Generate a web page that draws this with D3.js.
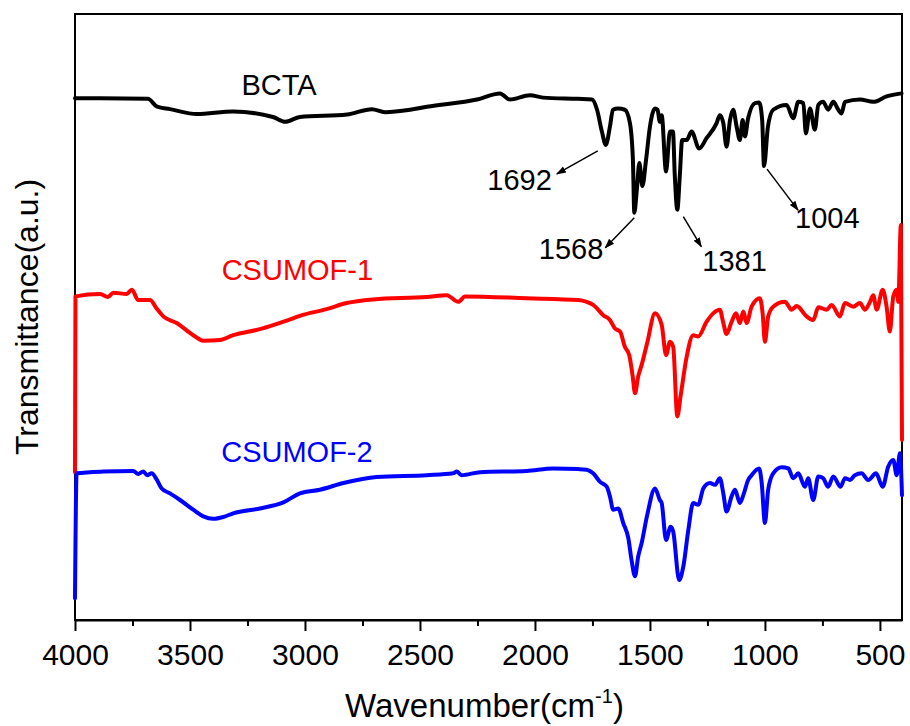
<!DOCTYPE html>
<html>
<head>
<meta charset="utf-8">
<script src="https://cdn.jsdelivr.net/npm/d3@7"></script>
<style>
  html, body { margin: 0; padding: 0; background: #fff; }
  svg { display: block; font-family: "Liberation Sans", Arial, sans-serif; }
</style>
</head>
<body>
<svg id="chart" width="910" height="726"></svg>
<script>
// FTIR spectra: [wavenumber (cm^-1), transmittance (a.u., offset stacked)]
const bcta = [
  [4000,86.1],[3891,86.1],[3683,86.0],[3643,84.7],[3587,84.3],[3470,83.5],[3313,83.9],
  [3139,83.0],[3087,82.2],[3022,83.0],[2817,83.4],[2709,84.3],[2652,83.8],[2543,84.2],
  [2470,84.7],[2252,85.9],[2152,86.9],[2109,85.9],[2022,86.6],[1965,86.2],[1813,86.0],
  [1752,85.9],[1730,84.2],[1709,80.6],[1692,78.4],[1674,81.4],[1661,84.2],[1639,84.4],
  [1609,84.2],[1587,82.0],[1574,75.9],[1568,67.2],[1557,71.0],[1546,75.4],[1533,71.6],
  [1517,75.9],[1500,81.4],[1478,84.4],[1467,84.2],[1457,82.2],[1449,83.3],[1430,74.0],
  [1413,80.6],[1400,80.6],[1392,73.4],[1381,67.7],[1370,73.4],[1360,79.2],[1340,79.2],
  [1319,80.6],[1286,77.8],[1254,79.5],[1210,82.0],[1196,83.3],[1181,82.0],[1167,78.1],
  [1152,82.5],[1138,84.2],[1123,81.4],[1109,79.2],[1097,82.5],[1087,79.8],[1073,82.8],
  [1043,85.3],[1025,85.4],[1012,82.5],[1004,74.9],[987,81.4],[964,84.2],[906,85.0],
  [877,82.8],[855,85.5],[833,85.3],[822,80.3],[804,84.4],[783,80.9],[768,85.0],
  [747,85.5],[725,84.2],[703,85.5],[681,84.2],[667,83.6],[652,85.5],[587,85.9],
  [529,85.5],[471,86.4],[406,86.9]
];

const csumof1 = [
  [4000,24.4],[3998,53.4],[3891,53.8],[3857,53.3],[3833,54.0],[3775,53.8],[3753,54.5],
  [3725,52.8],[3674,52.8],[3645,51.4],[3616,50.1],[3558,49.0],[3486,47.0],[3442,46.1],
  [3370,46.2],[3312,47.0],[3196,48.0],[3080,49.4],[3022,50.2],[2906,51.3],[2819,52.3],
  [2703,52.9],[2471,53.3],[2384,53.6],[2333,52.5],[2304,53.4],[2036,53.1],[1812,52.8],
  [1775,52.5],[1747,52.0],[1703,50.3],[1674,49.5],[1652,48.1],[1630,47.6],[1609,45.1],
  [1590,43.7],[1575,40.2],[1565,37.4],[1551,40.2],[1536,42.1],[1512,45.7],[1478,50.6],
  [1449,48.7],[1430,43.7],[1413,45.9],[1399,45.1],[1381,33.6],[1367,36.9],[1340,43.5],
  [1312,47.0],[1290,46.8],[1254,49.2],[1225,50.6],[1196,51.2],[1181,49.0],[1167,47.2],
  [1145,49.2],[1126,50.6],[1109,49.0],[1094,50.9],[1080,49.0],[1058,51.7],[1022,53.1],
  [1010,50.6],[1000,45.9],[986,50.1],[964,51.7],[913,52.5],[884,51.2],[862,51.8],
  [819,50.1],[790,49.5],[768,51.6],[732,51.2],[710,52.0],[674,50.1],[652,52.3],
  [616,51.7],[587,52.3],[565,51.2],[543,52.5],[529,53.6],[514,51.2],[488,54.5],
  [471,51.7],[457,47.6],[442,53.4],[427,54.5],[420,52.5],[409,65.2],[404,29.7]
];

const csumof2 = [
  [4000,3.6],[3993,24.2],[3877,24.5],[3747,24.6],[3725,24.1],[3703,24.5],[3686,23.9],
  [3667,24.2],[3645,23.2],[3623,21.7],[3587,20.9],[3543,19.8],[3486,18.2],[3442,17.1],
  [3399,16.7],[3355,17.0],[3312,17.6],[3196,18.4],[3094,19.4],[3022,20.9],[2935,21.5],
  [2833,22.6],[2688,23.6],[2471,23.9],[2355,24.2],[2340,24.5],[2319,23.9],[2239,24.4],
  [2036,24.6],[1920,25.0],[1812,24.9],[1775,24.8],[1747,24.2],[1717,22.8],[1688,22.0],
  [1674,20.4],[1660,18.2],[1638,18.4],[1616,16.0],[1594,13.5],[1580,9.9],[1565,7.2],
  [1551,10.5],[1536,12.7],[1512,17.3],[1478,21.7],[1457,19.8],[1449,19.3],[1430,13.2],
  [1410,15.4],[1399,14.6],[1373,6.6],[1355,8.8],[1333,14.9],[1312,19.3],[1290,19.0],
  [1268,21.7],[1239,22.6],[1217,22.3],[1196,23.4],[1181,20.9],[1167,17.9],[1145,20.4],
  [1130,21.5],[1109,19.3],[1094,20.6],[1073,23.1],[1058,23.9],[1025,25.0],[1014,22.6],
  [1000,16.0],[986,21.5],[964,24.2],[927,25.2],[898,25.0],[877,23.4],[855,24.2],
  [826,22.0],[812,23.4],[790,19.8],[768,23.7],[747,23.4],[725,22.0],[703,23.7],
  [671,22.0],[652,23.4],[630,23.1],[609,23.9],[580,24.2],[551,23.1],[517,24.2],
  [488,22.0],[464,25.3],[442,26.4],[427,23.9],[413,27.5],[404,20.6]
];

const seriesNames = ["BCTA", "CSUMOF-1", "CSUMOF-2"];
const seriesColors = ["#000000", "#ff0000", "#0000ff"];

// Peak positions marked on the BCTA spectrum
const peakLabels = [1692, 1568, 1381, 1004];

// Axis ticks
const majorTicks = [4000, 3500, 3000, 2500, 2000, 1500, 1000, 500];
const minorTicks = [3750, 3250, 2750, 2250, 1750, 1250, 750];

const svg = d3.select("#chart");
const plot = { left: 75, right: 902, top: 14, bottom: 620 };

const x = d3.scaleLinear().domain([4000, 404]).range([plot.left, plot.right]);
const y = d3.scaleLinear().domain([0, 100]).range([plot.bottom, plot.top]);

// Frame
svg.append("rect")
  .attr("x", plot.left).attr("y", plot.top)
  .attr("width", plot.right - plot.left).attr("height", plot.bottom - plot.top)
  .attr("fill", "none").attr("stroke", "#000").attr("stroke-width", 2);

// Bottom axis: major ticks with labels, minor ticks without
const xAxis = svg.append("g").attr("transform", `translate(0,${plot.bottom})`)
  .call(d3.axisBottom(x).tickValues(majorTicks).tickFormat(d3.format("d"))
    .tickSize(11).tickSizeOuter(0));
xAxis.select(".domain").attr("stroke-width", 2);
xAxis.selectAll(".tick line").attr("stroke-width", 2);
xAxis.selectAll(".tick text")
  .attr("y", 45).attr("dy", null)
  .attr("font-size", 30)
  .attr("font-family", "Liberation Sans, Arial, sans-serif")
  .attr("fill", "#000");

const xMinor = svg.append("g").attr("transform", `translate(0,${plot.bottom})`)
  .call(d3.axisBottom(x).tickValues(minorTicks).tickSize(6).tickSizeOuter(0).tickFormat(""));
xMinor.select(".domain").remove();
xMinor.selectAll(".tick line").attr("stroke-width", 2);

// Axis titles
const xTitle = svg.append("text")
  .attr("x", (plot.left + plot.right) / 2 - 4).attr("y", 717)
  .attr("text-anchor", "middle").attr("font-size", 33).attr("fill", "#000");
xTitle.append("tspan").text("Wavenumber(cm");
xTitle.append("tspan").attr("font-size", 20).attr("dy", -14).text("-1");
xTitle.append("tspan").attr("dy", 14).text(")");

svg.append("text")
  .attr("transform", `translate(38,${(plot.top + plot.bottom) / 2}) rotate(-90)`)
  .attr("text-anchor", "middle").attr("font-size", 32).attr("fill", "#000")
  .text("Transmittance(a.u.)");

// Spectra
const line = d3.line()
  .x(d => x(d[0])).y(d => y(d[1]))
  .curve(d3.curveMonotoneX);

[bcta, csumof1, csumof2].forEach((data, i) => {
  svg.append("path")
    .datum(data)
    .attr("fill", "none")
    .attr("stroke", seriesColors[i])
    .attr("stroke-width", 4)
    .attr("stroke-linejoin", "round")
    .attr("stroke-linecap", "round")
    .attr("d", line);
});

// Series names, placed above each trace's baseline level
const nameAnchors = [
  { w: 3113, dy: -3 },
  { w: 3033, dy: -16 },
  { w: 3035, dy: -11 }
];
const nameLevels = [bcta[0][1], csumof1[1][1], csumof2[1][1]];
seriesNames.forEach((name, i) => {
  svg.append("text")
    .attr("x", x(nameAnchors[i].w))
    .attr("y", y(nameLevels[i]) + nameAnchors[i].dy)
    .attr("text-anchor", "middle")
    .attr("font-size", 29)
    .attr("fill", seriesColors[i])
    .text(name);
});

// Arrow annotations for BCTA peaks
const defs = svg.append("defs");
defs.append("marker")
  .attr("id", "arrowhead")
  .attr("viewBox", "0 0 10 10")
  .attr("refX", 9).attr("refY", 5)
  .attr("markerWidth", 10).attr("markerHeight", 10)
  .attr("markerUnits", "userSpaceOnUse")
  .attr("orient", "auto")
  .append("path").attr("d", "M0,1.5 L10,5 L0,8.5 Z").attr("fill", "#000");

const arrowLayout = {
  1692: { sx: -8, sy: 6,  dx: -41, dy: 23, anchor: "end",   tx: -5, ty: 16 },
  1568: { sx: 0,  sy: 5,  dx: -29, dy: 30, anchor: "end",   tx: -2, ty: 11 },
  1381: { sx: 6,  sy: 7,  dx: 18,  dy: 30, anchor: "start", tx: 1,  ty: 24 },
  1004: { sx: 3,  sy: 3,  dx: 31,  dy: 41, anchor: "start", tx: -3, ty: 18 }
};

peakLabels.forEach(w => {
  const pt = bcta.find(d => d[0] === w);
  const L = arrowLayout[w];
  const x0 = x(pt[0]) + L.sx, y0 = y(pt[1]) + L.sy;
  const x1 = x0 + L.dx, y1 = y0 + L.dy;
  svg.append("line")
    .attr("x1", x0).attr("y1", y0).attr("x2", x1).attr("y2", y1)
    .attr("stroke", "#000").attr("stroke-width", 1.5)
    .attr("marker-end", "url(#arrowhead)");
  svg.append("text")
    .attr("x", x1 + L.tx).attr("y", y1 + L.ty)
    .attr("text-anchor", L.anchor)
    .attr("font-size", 29).attr("fill", "#000")
    .text(String(w));
});
</script>
</body>
</html>
